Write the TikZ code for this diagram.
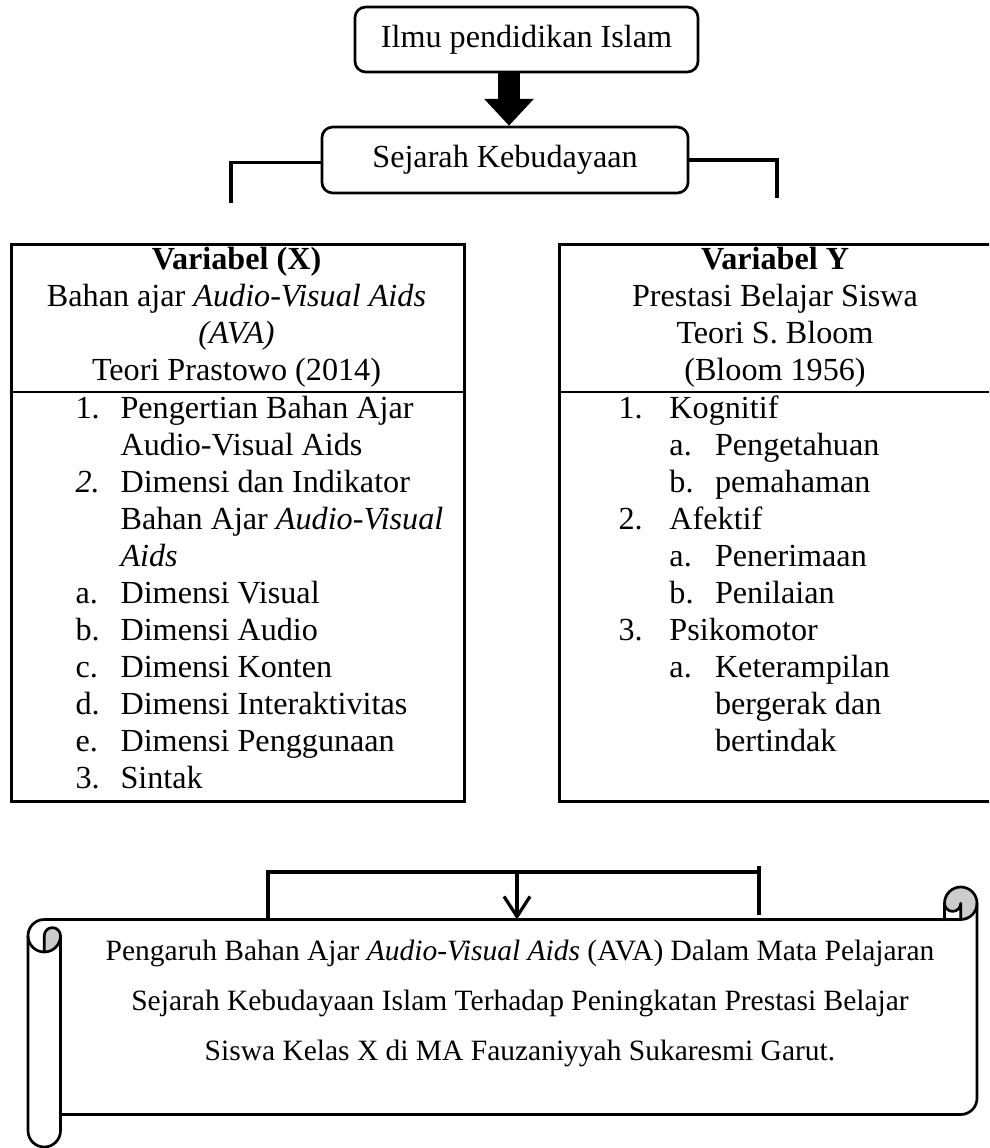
\documentclass[tikz,border=0pt]{standalone}
\usepackage{fontspec}
\setmainfont{Liberation Serif}
\usetikzlibrary{arrows.meta}
\definecolor{curlgrey}{HTML}{CCCCCC}
\begin{document}
\begin{tikzpicture}[x=0.3731pt,y=-0.3731pt,
  rbox/.style={draw, line width=1pt, rounded corners=4pt, inner sep=0pt, font=\fontsize{12}{13.8}\selectfont},
  tbox/.style={draw, line width=1pt, inner sep=0pt, anchor=north west},
  txt/.style={inner sep=0pt, font=\fontsize{12}{13.8}\selectfont},
  conn/.style={line width=1.2pt},
  scrollline/.style={line width=1pt, line join=round},
]
\useasboundingbox (0,0) rectangle (989,1148);
\clip (0,0) rectangle (989,1148);

% top boxes
\node[rbox, minimum width=128pt, minimum height=24.25pt] (ilmu) at (526.5,39.5) {Ilmu pendidikan Islam};
\node[rbox, minimum width=136.6pt, minimum height=24.6pt] (sk) at (505,160) {Sejarah Kebudayaan};
\coordinate (ax) at (509,0);
\draw[line width=8.2pt, -{Triangle[width=17.9pt,length=10pt]}] (ilmu.south -| ax) -- (sk.north -| ax);

% brackets from Sejarah Kebudayaan
\coordinate (bl) at (231,203);
\coordinate (br) at (777,198);
\draw[conn] ([yshift=-1pt]sk.west) -| (bl);
\draw[conn] (sk.east) -| (br);

% variable boxes
\coordinate (sep) at (0,392);
\node[tbox, minimum width=169pt, minimum height=207.8pt] (vx) at (10,243) {};
\node[tbox, minimum width=164.9pt, minimum height=207.8pt] (vy) at (558,243) {};
\draw[line width=1pt] (vx.west |- sep) -- (vx.east |- sep);
\draw[line width=1pt] (vy.west |- sep) -- (vy.east |- sep);

\node[txt, anchor=north] (hx) at (236.5,243) {\begin{tabular}{@{}c@{}}\textbf{Variabel (X)}\\ Bahan ajar \textit{Audio-Visual Aids}\\ \textit{(AVA)}\\ Teori Prastowo (2014)\end{tabular}};
\node[txt, anchor=north] (hy) at (775,243) {\begin{tabular}{@{}c@{}}\textbf{Variabel Y}\\ Prestasi Belajar Siswa\\ Teori S. Bloom\\ (Bloom 1956)\end{tabular}};

\node[txt, anchor=north west] (lx) at (75,392) {\begin{tabular}{@{}p{16.8pt}@{}l@{}}
1. & Pengertian Bahan Ajar\\
   & Audio-Visual Aids\\
\textit{2.} & Dimensi dan Indikator\\
   & Bahan Ajar \textit{Audio-Visual}\\
   & \textit{Aids}\\
a. & Dimensi Visual\\
b. & Dimensi Audio\\
c. & Dimensi Konten\\
d. & Dimensi Interaktivitas\\
e. & Dimensi Penggunaan\\
3. & Sintak
\end{tabular}};

\node[txt, anchor=north west] (ly) at (618,392) {\begin{tabular}{@{}p{19pt}@{}p{17pt}@{}l@{}}
1. & \multicolumn{2}{@{}l@{}}{Kognitif}\\
   & a. & Pengetahuan\\
   & b. & pemahaman\\
2. & \multicolumn{2}{@{}l@{}}{Afektif}\\
   & a. & Penerimaan\\
   & b. & Penilaian\\
3. & \multicolumn{2}{@{}l@{}}{Psikomotor}\\
   & a. & Keterampilan\\
   &    & bergerak dan\\
   &    & bertindak
\end{tabular}};

% horizontal scroll
\begin{scope}[shift={(28,887)}]
  \fill[curlgrey] (16.25,48.75) arc[start angle=180, delta angle=180, radius=8.125]
     arc[start angle=0, delta angle=90, radius=16.25] -- cycle;
  \fill[curlgrey] (916.5,16.25) arc[start angle=180, delta angle=180, radius=16.25]
     arc[start angle=0, delta angle=90, radius=16.25] -- (932.75,16.25)
     arc[start angle=0, delta angle=180, radius=8.125] -- cycle;
  \draw[scrollline] (0,48.75) arc[start angle=180, delta angle=90, radius=16.25]
     -- (916.5,32.5) -- (916.5,16.25) arc[start angle=180, delta angle=180, radius=16.25]
     -- (949,211.25) arc[start angle=0, delta angle=90, radius=16.25]
     -- (32.5,227.5) -- (32.5,243.75) arc[start angle=0, delta angle=180, radius=16.25] -- cycle;
  \draw[scrollline] (916.5,32.5) -- (932.75,32.5) arc[start angle=90, delta angle=-90, radius=16.25];
  \draw[scrollline] (932.75,32.5) -- (932.75,16.25) arc[start angle=0, delta angle=180, radius=8.125];
  \draw[scrollline] (16.25,65) -- (16.25,48.75) arc[start angle=180, delta angle=180, radius=8.125]
     arc[start angle=0, delta angle=180, radius=16.25];
  \draw[scrollline] (32.5,48.75) -- (32.5,227.5);
\end{scope}

\node[inner sep=0pt, anchor=north, font=\fontsize{11}{18.66}\selectfont] (st) at (520,925) {\begin{tabular}{@{}c@{}}Pengaruh Bahan Ajar \textit{Audio-Visual Aids} (AVA) Dalam Mata Pelajaran\\ Sejarah Kebudayaan Islam Terhadap Peningkatan Prestasi Belajar\\ Siswa Kelas X di MA Fauzaniyyah Sukaresmi Garut.\end{tabular}};

% bottom bracket into the scroll
\coordinate (scrolltop) at (0,919.5);
\coordinate (bbl) at (268,872);
\coordinate (bbm) at (517,872);
\coordinate (bbr) at (759,872);
\coordinate (bbrt) at (759,866);
\coordinate (bbrb) at (759,915);
\draw[conn] (bbl |- scrolltop) -- (bbl) -- (bbr);
\draw[conn] (bbrt) -- (bbrb);
\draw[conn, -{Straight Barb[length=7.5pt,width=9.7pt,line width=1.2pt]}] (bbm) -- (bbm |- scrolltop);
\end{tikzpicture}
\end{document}
